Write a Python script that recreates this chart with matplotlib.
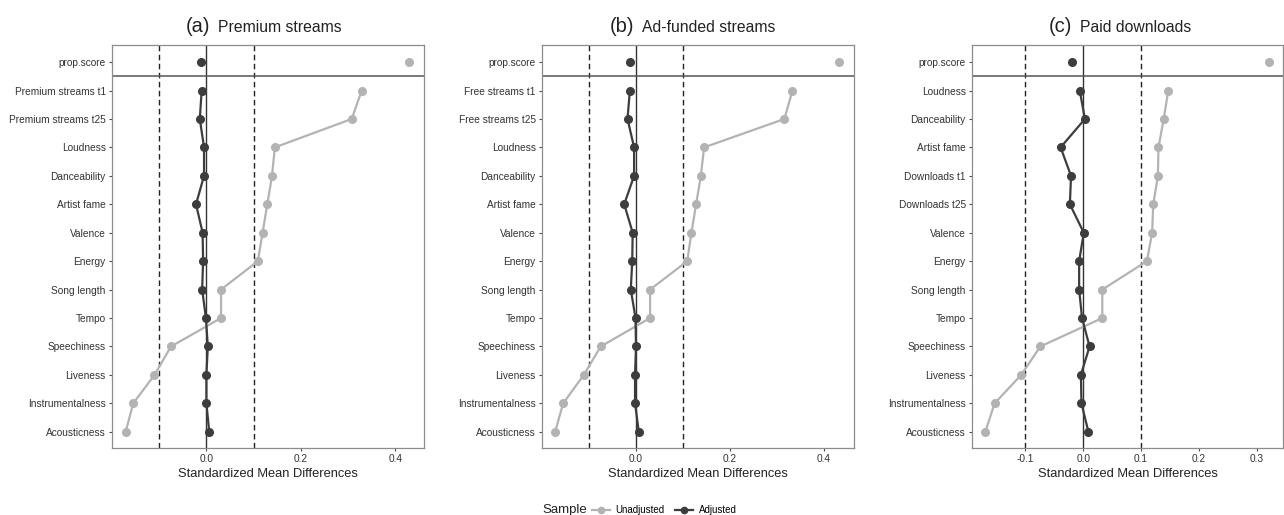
import matplotlib
matplotlib.use('Agg')
import matplotlib.pyplot as plt
from matplotlib.lines import Line2D

plt.rcParams['font.family'] = ['Liberation Sans', 'DejaVu Sans']

# panel (a) premium streams
vars_a = ['Premium streams t1', 'Premium streams t25', 'Loudness', 'Danceability',
          'Artist fame', 'Valence', 'Energy', 'Song length', 'Tempo', 'Speechiness',
          'Liveness', 'Instrumentalness', 'Acousticness']
unadj_a = [0.329, 0.308, 0.145, 0.139, 0.129, 0.119, 0.109, 0.031, 0.031, -0.075,
           -0.110, -0.155, -0.171]
adj_a = [-0.010, -0.014, -0.005, -0.005, -0.022, -0.008, -0.007, -0.009, -0.001,
         0.003, 0.0, 0.0, 0.006]
ps_a = [0.429, -0.011]  # unadjusted, adjusted

# panel (b) ad-funded streams
vars_b = ['Free streams t1', 'Free streams t25', 'Loudness', 'Danceability',
          'Artist fame', 'Valence', 'Energy', 'Song length', 'Tempo', 'Speechiness',
          'Liveness', 'Instrumentalness', 'Acousticness']
unadj_b = [0.333, 0.316, 0.145, 0.138, 0.128, 0.118, 0.109, 0.030, 0.030, -0.075,
           -0.111, -0.155, -0.172]
adj_b = [-0.013, -0.018, -0.004, -0.004, -0.025, -0.007, -0.008, -0.011, -0.001,
         0.0, -0.002, -0.002, 0.006]
ps_b = [0.433, -0.013]

# panel (c) paid downloads
vars_c = ['Loudness', 'Danceability', 'Artist fame', 'Downloads t1', 'Downloads t25',
          'Valence', 'Energy', 'Song length', 'Tempo', 'Speechiness', 'Liveness',
          'Instrumentalness', 'Acousticness']
unadj_c = [0.147, 0.139, 0.130, 0.129, 0.121, 0.119, 0.110, 0.033, 0.033, -0.074,
           -0.107, -0.153, -0.169]
adj_c = [-0.006, 0.003, -0.039, -0.021, -0.023, 0.001, -0.007, -0.007, -0.002,
         0.011, -0.004, -0.003, 0.009]
ps_c = [0.320, -0.019]

panels = [
    ('(a)', 'Premium streams', vars_a, unadj_a, adj_a, ps_a, (-0.2, 0.461), [0.0, 0.2, 0.4], 0.314),
    ('(b)', 'Ad-funded streams', vars_b, unadj_b, adj_b, ps_b, (-0.2, 0.464), [0.0, 0.2, 0.4], 0.295),
    ('(c)', 'Paid downloads', vars_c, unadj_c, adj_c, ps_c, (-0.192, 0.345), [-0.1, 0.0, 0.1, 0.2, 0.3], 0.322),
]

c_un = '#b3b3b3'
c_ad = '#3d3d3d'
border = '#8c8c8c'

fig = plt.figure(figsize=(12.84, 5.15), dpi=100)
lefts = [112, 542, 972]
widths = [312, 312, 311]
top_px, bot_px = 45, 448

for i, (tag, name, labels, un, ad, ps, xlim, xt, split) in enumerate(panels):
    ax = fig.add_axes([lefts[i] / 1284, 1 - bot_px / 515, widths[i] / 1284, (bot_px - top_px) / 515])
    rows = list(range(1, len(labels) + 1))

    ax.axvline(-0.1, color='#222222', lw=1.0, dashes=(4, 2.5), zorder=1)
    ax.axvline(0.1, color='#222222', lw=1.0, dashes=(4, 2.5), zorder=1)
    ax.axvline(0.0, color='#333333', lw=1.0, zorder=1)
    ax.axhline(0.5, color='#555555', lw=1.1, zorder=1)

    ax.plot(un, rows, color=c_un, lw=1.6, marker='o', ms=5.5, zorder=2)
    ax.plot(ad, rows, color=c_ad, lw=1.6, marker='o', ms=5.5, zorder=3)
    ax.plot([ps[0]], [0], color=c_un, marker='o', ms=5.5, ls='none', zorder=2)
    ax.plot([ps[1]], [0], color=c_ad, marker='o', ms=5.5, ls='none', zorder=3)

    ax.set_ylim(13.57, -0.6)
    ax.set_xlim(*xlim)
    ax.set_yticks([0] + rows)
    ax.set_yticklabels(['prop.score'] + labels)
    ax.set_xticks(xt)
    ax.set_xticklabels(['%.1f' % v for v in xt])
    ax.tick_params(axis='both', labelsize=7.3, colors='#4d4d4d', labelcolor='#333333',
                   length=2.5, width=0.8, pad=2)
    for sp in ax.spines.values():
        sp.set_color(border)
        sp.set_linewidth(0.9)
    ax.set_xlabel('Standardized Mean Differences', fontsize=9.3, color='#222222', labelpad=3)

    ax.text(split, 1.032, tag, transform=ax.transAxes, ha='right', va='baseline',
            fontsize=14.5, color='#222222')
    ax.text(split + 0.025, 1.032, name, transform=ax.transAxes, ha='left', va='baseline',
            fontsize=11.3, color='#222222')

fig.text(542 / 1284, 1 - 510 / 515, 'Sample', fontsize=9.5, color='#222222', va='center', ha='left')
handles = [Line2D([], [], color=c_un, lw=1.6, marker='o', ms=4.5),
           Line2D([], [], color=c_ad, lw=1.6, marker='o', ms=4.5)]
fig.legend(handles, ['Unadjusted', 'Adjusted'], ncol=2, loc='center left',
           bbox_to_anchor=(592 / 1284, 1 - 510 / 515), frameon=False, fontsize=7,
           handlelength=1.8, handletextpad=0.6, columnspacing=1.1, borderpad=0,
           borderaxespad=0)

fig.savefig('out.png', dpi=100)
